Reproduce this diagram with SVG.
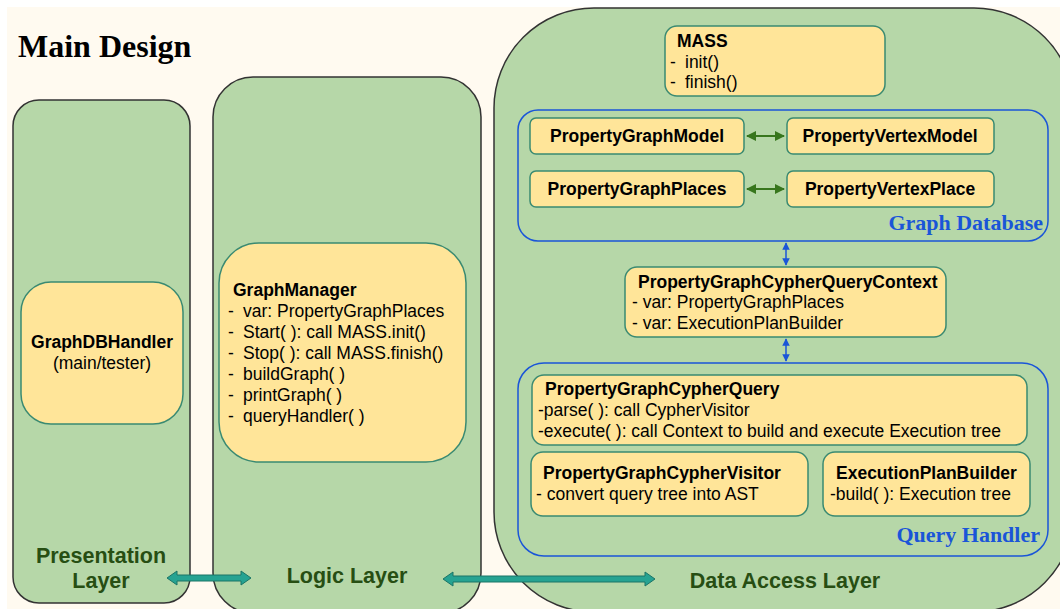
<svg xmlns="http://www.w3.org/2000/svg" width="1060" height="609" viewBox="0 0 1060 609">
  <style>
    .layer { fill: #b6d7a8; stroke: #333333; stroke-width: 1.5; }
    .node { fill: #ffe599; stroke: #3a8a72; stroke-width: 1.5; }
    .group { fill: none; stroke: #1a55d8; stroke-width: 1.5; }
    .t { font-family: "Liberation Sans", Arial, sans-serif; font-size: 17.5px; fill: #000000; }
    .b { font-weight: bold; }
    .mid { text-anchor: middle; }
    .lbl { font-family: "Liberation Sans", Arial, sans-serif; font-size: 21.5px; font-weight: bold; fill: #274e13; text-anchor: middle; }
    .grp { font-family: "Liberation Serif", "Times New Roman", serif; font-size: 22px; font-weight: bold; fill: #1a55d8; text-anchor: end; }
    .bigarrow { fill: #26a392; stroke: #1b7466; stroke-width: 1; }
    .green { stroke: #38761d; stroke-width: 2; fill: none; }
    .blue { stroke: #1a55d8; stroke-width: 1.5; fill: none; }
  </style>
  <defs>
    <marker id="gHead" viewBox="0 0 10 10" refX="9" refY="5" markerWidth="5" markerHeight="5" orient="auto-start-reverse">
      <path d="M0,0 L10,5 L0,10 z" fill="#38761d"/>
    </marker>
    <marker id="bHead" viewBox="0 0 10 10" refX="9" refY="5" markerWidth="5" markerHeight="5" orient="auto-start-reverse">
      <path d="M0,0 L10,5 L0,10 z" fill="#1a55d8"/>
    </marker>
  </defs>

  <!-- page -->
  <rect x="0" y="0" width="1060" height="609" fill="#ffffff"/>
  <rect x="7" y="7" width="1053" height="602" fill="#fffaf0"/>
  <text x="18" y="57" font-family="Liberation Serif, Times New Roman, serif" font-size="32" font-weight="bold" fill="#000000">Main Design</text>

  <!-- layers -->
  <g id="presentation-layer">
    <rect class="layer" x="13" y="100" width="177" height="503" rx="26"/>
    <text class="lbl" x="101" y="563">Presentation</text>
    <text class="lbl" x="101" y="588">Layer</text>
  </g>
  <g id="logic-layer">
    <rect class="layer" x="213" y="77" width="268" height="536" rx="40"/>
    <text class="lbl" x="347" y="583">Logic Layer</text>
  </g>
  <g id="data-access-layer">
    <rect class="layer" x="494" y="8" width="580" height="604" rx="100"/>
    <text class="lbl" x="785" y="588">Data Access Layer</text>
  </g>

  <!-- presentation -->
  <g id="graphdbhandler">
    <rect class="node" x="21" y="282" width="162" height="142" rx="30"/>
    <text class="t b mid" x="102" y="348">GraphDBHandler</text>
    <text class="t mid" x="102" y="369">(main/tester)</text>
  </g>

  <!-- logic -->
  <g id="graphmanager">
    <rect class="node" x="219" y="243" width="247" height="219" rx="40"/>
    <text class="t b" x="233" y="296">GraphManager</text>
    <g class="t">
      <text x="228" y="317">-</text><text x="243" y="317">var: PropertyGraphPlaces</text>
      <text x="228" y="338">-</text><text x="243" y="338">Start( ): call MASS.init()</text>
      <text x="228" y="359">-</text><text x="243" y="359">Stop( ): call MASS.finish()</text>
      <text x="228" y="380">-</text><text x="243" y="380">buildGraph( )</text>
      <text x="228" y="401">-</text><text x="243" y="401">printGraph( )</text>
      <text x="228" y="422">-</text><text x="243" y="422">queryHandler( )</text>
    </g>
  </g>

  <!-- data access -->
  <g id="mass">
    <rect class="node" x="665" y="26" width="220" height="70" rx="12"/>
    <text class="t b" x="677" y="47">MASS</text>
    <text class="t" x="670" y="68">-</text><text class="t" x="685" y="68">init()</text>
    <text class="t" x="670" y="88">-</text><text class="t" x="685" y="88">finish()</text>
  </g>

  <g id="graph-database">
    <rect class="group" x="518" y="110" width="530" height="131" rx="20"/>
    <text class="grp" x="1043" y="230">Graph Database</text>
  </g>
  <g id="propertygraphmodel">
    <rect class="node" x="530" y="118" width="214" height="36" rx="6"/>
    <text class="t b mid" x="637" y="142">PropertyGraphModel</text>
  </g>
  <g id="propertyvertexmodel">
    <rect class="node" x="787" y="118" width="207" height="36" rx="6"/>
    <text class="t b mid" x="890" y="142">PropertyVertexModel</text>
  </g>
  <g id="propertygraphplaces">
    <rect class="node" x="530" y="171" width="214" height="36" rx="6"/>
    <text class="t b mid" x="637" y="195">PropertyGraphPlaces</text>
  </g>
  <g id="propertyvertexplace">
    <rect class="node" x="787" y="171" width="207" height="36" rx="6"/>
    <text class="t b mid" x="890" y="195">PropertyVertexPlace</text>
  </g>

  <g id="querycontext">
    <rect class="node" x="625" y="267" width="321" height="70" rx="12"/>
    <text class="t b" x="638" y="288">PropertyGraphCypherQueryContext</text>
    <text class="t" x="632" y="308">- var: PropertyGraphPlaces</text>
    <text class="t" x="632" y="329">- var: ExecutionPlanBuilder</text>
  </g>

  <g id="query-handler">
    <rect class="group" x="518" y="363" width="530" height="193" rx="26"/>
    <text class="grp" x="1040" y="542">Query Handler</text>
  </g>
  <g id="cypherquery">
    <rect class="node" x="532" y="375" width="495" height="70" rx="12"/>
    <text class="t b" x="545" y="395">PropertyGraphCypherQuery</text>
    <text class="t" x="538" y="416">-parse( ): call CypherVisitor</text>
    <text class="t" x="538" y="437">-execute( ): call Context to build and execute Execution tree</text>
  </g>
  <g id="cyphervisitor">
    <rect class="node" x="531" y="452" width="277" height="64" rx="12"/>
    <text class="t b" x="543" y="479">PropertyGraphCypherVisitor</text>
    <text class="t" x="536" y="500">- convert query tree into AST</text>
  </g>
  <g id="executionplanbuilder">
    <rect class="node" x="823" y="452" width="207" height="64" rx="12"/>
    <text class="t b" x="836" y="479">ExecutionPlanBuilder</text>
    <text class="t" x="830" y="500">-build( ): Execution tree</text>
  </g>

  <!-- connectors -->
  <g id="connectors">
    <line class="green" x1="747" y1="136" x2="784" y2="136" marker-start="url(#gHead)" marker-end="url(#gHead)"/>
    <line class="green" x1="747" y1="189" x2="784" y2="189" marker-start="url(#gHead)" marker-end="url(#gHead)"/>
    <line class="blue" x1="786" y1="243" x2="786" y2="265" marker-start="url(#bHead)" marker-end="url(#bHead)"/>
    <line class="blue" x1="786" y1="339" x2="786" y2="361" marker-start="url(#bHead)" marker-end="url(#bHead)"/>
    <polygon class="bigarrow" points="167,578 177,571 177,575 241,575 241,571 251,578 241,585 241,581 177,581 177,585"/>
    <polygon class="bigarrow" points="443,579 453,572 453,576 645,576 645,572 655,579 645,586 645,582 453,582 453,586"/>
  </g>
</svg>
